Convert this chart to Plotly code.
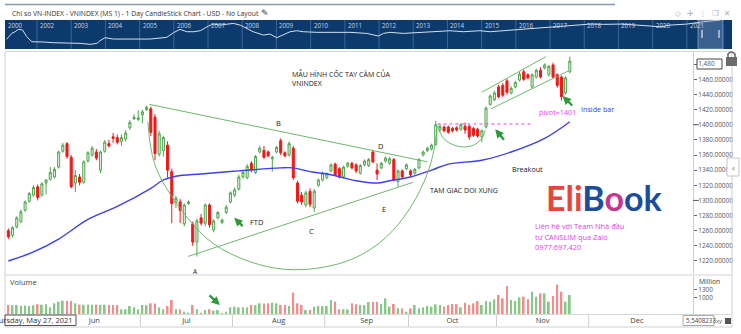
import plotly.graph_objects as go

W, H = 741, 334

# ---------------- VN-Index daily sessions, 18 May - 24 Nov 2021 ----------------
opens = [1260, 1254, 1265, 1272, 1287, 1299, 1307, 1318, 1307, 1323,
         1328, 1331, 1344, 1365, 1375, 1357, 1323, 1331, 1324, 1352,
         1360, 1364, 1340, 1365, 1375, 1384, 1383, 1378, 1381, 1396,
         1408, 1407, 1413, 1420, 1421, 1410, 1361, 1366, 1373, 1338,
         1297, 1298, 1269, 1296, 1269, 1245, 1277, 1270, 1294, 1261,
         1277, 1271, 1284, 1298, 1307, 1315, 1331, 1330, 1349, 1337,
         1364, 1366, 1364, 1355, 1364, 1379, 1363, 1360, 1369, 1323,
         1307, 1294, 1312, 1290, 1320, 1327, 1330, 1339, 1348, 1342,
         1331, 1345, 1349, 1347, 1336, 1347, 1346, 1364, 1340, 1343,
         1352, 1349, 1354, 1325, 1339, 1342, 1339, 1336, 1343, 1360,
         1366, 1368, 1374, 1393, 1397, 1397, 1395, 1396, 1394, 1398,
         1398, 1395, 1394, 1384, 1397, 1427, 1433, 1450, 1452, 1458,
         1442, 1450, 1459, 1470, 1466, 1450, 1463, 1472, 1475, 1466,
         1479, 1466, 1463, 1442, 1470]
highs = [1263, 1266, 1279, 1288, 1300, 1311, 1320, 1321, 1324, 1328,
         1344, 1344, 1366, 1376, 1377, 1360, 1340, 1335, 1353, 1365,
         1372, 1368, 1366, 1380, 1380, 1389, 1387, 1387, 1393, 1406,
         1414, 1419, 1420, 1425, 1424, 1414, 1392, 1385, 1378, 1342,
         1306, 1302, 1296, 1300, 1272, 1276, 1282, 1296, 1296, 1275,
         1286, 1276, 1294, 1312, 1317, 1334, 1339, 1348, 1352, 1360,
         1372, 1372, 1366, 1359, 1372, 1382, 1365, 1378, 1372, 1326,
         1311, 1313, 1316, 1315, 1329, 1338, 1337, 1349, 1350, 1344,
         1346, 1351, 1351, 1349, 1348, 1354, 1356, 1367, 1349, 1351,
         1358, 1357, 1356, 1341, 1341, 1349, 1341, 1343, 1356, 1366,
         1371, 1375, 1405, 1401, 1399, 1399, 1397, 1398, 1402, 1403,
         1400, 1397, 1396, 1394, 1424, 1440, 1445, 1453, 1455, 1461,
         1451, 1458, 1470, 1473, 1468, 1468, 1474, 1476, 1481, 1479,
         1482, 1468, 1465, 1464, 1490]
lows = [1249, 1251, 1263, 1270, 1285, 1297, 1305, 1300, 1305, 1308,
        1326, 1329, 1342, 1363, 1355, 1316, 1311, 1320, 1322, 1350,
        1358, 1353, 1336, 1363, 1370, 1376, 1374, 1372, 1378, 1393,
        1406, 1405, 1402, 1418, 1385, 1353, 1358, 1358, 1330, 1270,
        1290, 1270, 1266, 1294, 1240, 1226, 1267, 1266, 1264, 1258,
        1275, 1269, 1282, 1296, 1304, 1313, 1329, 1328, 1337, 1335,
        1362, 1355, 1357, 1338, 1362, 1360, 1357, 1358, 1327, 1296,
        1294, 1291, 1291, 1285, 1318, 1325, 1328, 1337, 1332, 1329,
        1329, 1343, 1341, 1336, 1334, 1345, 1344, 1349, 1327, 1341,
        1350, 1347, 1325, 1318, 1329, 1340, 1332, 1334, 1341, 1358,
        1364, 1366, 1372, 1391, 1390, 1388, 1390, 1391, 1392, 1388,
        1380, 1384, 1383, 1377, 1395, 1425, 1431, 1435, 1437, 1440,
        1440, 1448, 1457, 1458, 1460, 1448, 1461, 1461, 1473, 1464,
        1461, 1449, 1432, 1440, 1468]
closes = [1252, 1264, 1277, 1285, 1298, 1309, 1317, 1304, 1322, 1327,
          1337, 1341, 1364, 1373, 1358, 1318, 1333, 1324, 1351, 1363,
          1369, 1356, 1364, 1377, 1372, 1382, 1377, 1383, 1389, 1403,
          1410, 1409, 1417, 1423, 1390, 1362, 1388, 1383, 1340, 1296,
          1303, 1287, 1294, 1298, 1245, 1273, 1270, 1294, 1268, 1273,
          1284, 1274, 1291, 1310, 1314, 1331, 1337, 1345, 1340, 1358,
          1369, 1357, 1359, 1357, 1370, 1363, 1359, 1375, 1330, 1299,
          1298, 1310, 1295, 1312, 1327, 1336, 1335, 1347, 1334, 1331,
          1344, 1349, 1343, 1339, 1346, 1352, 1354, 1351, 1335, 1349,
          1356, 1355, 1327, 1339, 1331, 1347, 1334, 1341, 1354, 1364,
          1369, 1373, 1400, 1398, 1392, 1390, 1392, 1393, 1400, 1393,
          1384, 1386, 1385, 1392, 1422, 1438, 1442, 1437, 1439, 1443,
          1448, 1456, 1467, 1460, 1462, 1466, 1472, 1463, 1479, 1477,
          1463, 1452, 1437, 1462, 1484]
# matched volume, million shares
volumes = [711, 705, 715, 686, 690, 674, 700, 736, 724, 736,
           624, 774, 836, 874, 870, 861, 774, 724, 720, 728,
           722, 726, 718, 724, 716, 711, 706, 549, 552, 674,
           624, 549, 711, 705, 774, 770, 624, 549, 674, 899,
           549, 545, 461, 424, 711, 549, 424, 524, 549, 499,
           524, 399, 461, 624, 649, 624, 628, 620, 711, 706,
           774, 770, 776, 799, 774, 711, 715, 674, 1174, 774,
           711, 524, 520, 649, 674, 670, 678, 899, 836, 549,
           552, 546, 774, 736, 711, 708, 824, 836, 832, 749,
           961, 649, 749, 586, 582, 461, 586, 711, 586, 624,
           674, 649, 736, 711, 649, 715, 749, 745, 624, 799,
           711, 774, 861, 711, 861, 836, 924, 1086, 961, 1424,
           899, 861, 999, 1024, 924, 1211, 1024, 1149, 1145, 836,
           1049, 1474, 1211, 836, 1086]

# moving average (blue)
ma_x = [0, 6, 12, 19, 26, 34, 37, 40, 46, 55, 65, 68, 72, 77, 83, 88, 91, 96,
        101, 105, 113, 120, 128, 134]
ma_y = [1220, 1232, 1249, 1275, 1292, 1316, 1327, 1332, 1335, 1339, 1343, 1343,
        1338, 1334, 1326, 1323, 1326, 1331, 1340, 1348, 1353, 1364, 1382, 1404]

# drawn pattern lines (session index, price)
resist_x, resist_y = [33.6, 100.0], [1427, 1351]
support_x, support_y = [42.9, 96.6], [1226, 1324]
cup_x = [33.3, 33.9, 35.0, 37.0, 42.6, 48.9, 57.7, 66.0, 74.4, 82.7, 89.9, 95.9, 99.9, 101.6, 102.3]
cup_y = [1404, 1373, 1347, 1323, 1278, 1243, 1219, 1209, 1211, 1224, 1250, 1290, 1334, 1367, 1393]
handle_x = [102.4, 104.2, 107.8, 111.0, 113.0, 113.8]
handle_y = [1398, 1380, 1371, 1373, 1382, 1393]
chan_up_x, chan_up_y = [113.0, 128.3], [1443, 1490]
chan_lo_x, chan_lo_y = [115.2, 133.6], [1421, 1471]
pivot_price = 1401
pivot_x = [102.4, 124.6]

# calendar: sessions per month shown on the time axis
month_names = ["May", "Jun", "Jul", "Aug", "Sep", "Oct", "Nov", "Dec"]
month_sessions = [10, 22, 22, 22, 20, 21, 22, 23]

# long-term navigator (year, index level)
nav_year = [2001.11, 2001.26, 2001.36, 2001.45, 2001.58, 2001.70, 2001.85, 2001.99, 2002.18, 2002.48,
            2002.87, 2003.26, 2003.55, 2003.75, 2003.84, 2003.99, 2004.23, 2004.82, 2005.30, 2005.79,
            2005.99, 2006.18, 2006.38, 2006.57, 2006.77, 2007.01, 2007.16, 2007.35, 2007.74, 2007.94,
            2008.13, 2008.32, 2008.62, 2008.81, 2009.01, 2009.20, 2009.40, 2009.59, 2009.79, 2010.18,
            2010.66, 2011.15, 2011.64, 2011.83, 2011.98, 2012.13, 2012.32, 2012.71, 2013.20, 2013.69,
            2014.08, 2014.46, 2014.95, 2015.25, 2015.63, 2016.12, 2016.61, 2017.00, 2017.39, 2017.78,
            2018.17, 2018.56, 2019.05, 2019.54, 2020.02, 2020.22, 2020.51, 2021.00, 2021.48, 2021.97]
nav_level = [210, 385, 457, 580, 542, 275, 164, 164, 160, 149,
             149, 139, 126, 139, 182, 248, 216, 210, 216, 256,
             413, 580, 457, 457, 505, 814, 998, 901, 1067, 901,
             641, 457, 325, 360, 248, 325, 457, 505, 457, 429,
             429, 429, 385, 325, 294, 385, 429, 385, 413, 457,
             505, 457, 505, 457, 505, 580, 641, 713, 814, 901,
             998, 968, 998, 901, 814, 759, 901, 998, 1262, 1500]
nav_years = list(range(2002, 2022))

n = len(closes)
idx = list(range(n))

bounds = [-0.5]
for s in month_sessions:
    bounds.append(bounds[-1] + s)
centers = [(bounds[k] + bounds[k + 1]) / 2 for k in range(len(month_sessions))]

UP_LINE, UP_FILL, DN = "#4ea64e", "#e4f3e1", "#f01818"
TREND = "#6cb86c"
FONT = "Open Sans"


def px(x):
    return x / W


def py(y):
    return 1 - y / H


XD = [px(5), px(693)]
X_RANGE = [-0.8, 163.4]

fig = go.Figure()

fig.add_trace(go.Candlestick(
    x=idx, open=opens, high=highs, low=lows, close=closes,
    increasing=dict(line=dict(color=UP_LINE, width=1), fillcolor=UP_FILL),
    decreasing=dict(line=dict(color=DN, width=1), fillcolor=DN),
    whiskerwidth=0, hoverinfo="skip", xaxis="x", yaxis="y", showlegend=False))

fig.add_trace(go.Scatter(x=ma_x, y=ma_y, mode="lines", line=dict(color="#3f3ff0", width=1.4, shape="spline"),
                         hoverinfo="skip", xaxis="x", yaxis="y", showlegend=False))

for lx, ly, shape in [(resist_x, resist_y, "linear"), (support_x, support_y, "linear"),
                      (cup_x, cup_y, "spline"), (handle_x, handle_y, "spline"),
                      (chan_up_x, chan_up_y, "linear"), (chan_lo_x, chan_lo_y, "linear")]:
    fig.add_trace(go.Scatter(x=lx, y=ly, mode="lines", line=dict(color=TREND, width=1, shape=shape),
                             hoverinfo="skip", xaxis="x", yaxis="y", showlegend=False))

fig.add_trace(go.Scatter(x=pivot_x, y=[pivot_price, pivot_price], mode="lines",
                         line=dict(color="#f03cf0", width=1, dash="dot"),
                         hoverinfo="skip", xaxis="x", yaxis="y", showlegend=False))

vol_colors = ["#86c986" if c >= o else "#f48c8c" for o, c in zip(opens, closes)]
fig.add_trace(go.Bar(x=idx, y=volumes, marker=dict(color=vol_colors, line=dict(width=0)), width=0.42,
                     hoverinfo="skip", xaxis="x2", yaxis="y2", showlegend=False))

fig.add_trace(go.Scatter(x=nav_year, y=nav_level, mode="lines", line=dict(color="#d5dfeb", width=1),
                         hoverinfo="skip", xaxis="x3", yaxis="y3", showlegend=False))

price_ticks = list(range(1220, 1481, 20))
price_text = [f"{v:.5f}" for v in price_ticks[:-1]] + [f"{price_ticks[-1]:,}"]

shapes = []


def pline(x0, y0, x1, y1, color, width=1):
    shapes.append(dict(type="line", xref="paper", yref="paper", x0=px(x0), y0=py(y0), x1=px(x1), y1=py(y1),
                       line=dict(color=color, width=width)))


def prect(x0, y0, x1, y1, fill, line="rgba(0,0,0,0)", lw=1, layer="above"):
    shapes.append(dict(type="rect", xref="paper", yref="paper", x0=px(x0), y0=py(y0), x1=px(x1), y1=py(y1),
                       fillcolor=fill, line=dict(color=line, width=lw), layer=layer))


# header strip and navigator
pline(5, 4.5, 615, 4.5, "#8b99ad", 1.5)
prect(5, 20, 732, 49, "#0d3a6c", layer="below")
for yr in nav_years:
    shapes.append(dict(type="line", xref="x3", yref="paper", x0=yr, x1=yr, y0=py(49), y1=py(20),
                       line=dict(color="#3a6596", width=1), layer="below"))
prect(698, 20, 723, 49, "rgba(140,170,210,0.35)", "rgba(190,210,235,0.5)")
prect(701, 30, 703, 38, "#9fb0c6")
prect(718, 30, 720, 38, "#9fb0c6")

# panel frame
pline(5, 51.5, 732, 51.5, "#d6d6d6")
pline(5, 51.5, 5, 327, "#d0d0d0")
pline(732, 51.5, 732, 327, "#d0d0d0")
pline(5, 275, 732, 275, "#d0d0d0")
pline(5, 314.5, 732, 314.5, "#d6d6d6")
pline(5, 327, 732, 327, "#d0d0d0")
pline(693, 314.5, 693, 327, "#d0d0d0")
for b in bounds[1:]:
    shapes.append(dict(type="line", xref="x2", yref="paper", x0=b, x1=b, y0=py(327), y1=py(314.5),
                       line=dict(color="#cfcfcf", width=1)))

# longer ticks at the round hundreds
for v in (1300, 1400):
    shapes.append(dict(type="line", xref="paper", yref="y", x0=px(693), x1=px(699), y0=v, y1=v,
                       line=dict(color="#666", width=1)))

# last-price box, lock, collapse tab, crosshair boxes
prect(697, 59, 722, 69, "rgba(255,255,255,0)", "#444")
prect(726, 57, 737, 66, "#6a6a6a")
shapes.append(dict(type="path", xref="paper", yref="paper",
                   path=f"M {px(728)} {py(57)} L {px(728)} {py(54)} Q {px(731.5)} {py(50)} {px(735)} {py(54)} L {px(735)} {py(57)}",
                   line=dict(color="#6a6a6a", width=1.6)))
prect(727, 158, 739, 176, "white", "#c4c4c4")
prect(5, 315, 76, 325.5, "white", "#555")
prect(683, 315.5, 714, 325.5, "white", "#aaa")

ann = []


def ptext(x, y, s, size=7.5, color="#333", anchor="left", family=FONT):
    ann.append(dict(xref="paper", yref="paper", x=px(x), y=py(y), text=s, showarrow=False,
                    xanchor=anchor, yanchor="middle", font=dict(size=size, color=color, family=family)))


def dtext(x, y, s, size=7.5, color="#222", anchor="left", align="left"):
    ann.append(dict(xref="x", yref="y", x=x, y=y, text=s, showarrow=False, align=align,
                    xanchor=anchor, yanchor="middle", font=dict(size=size, color=color, family=FONT)))


def arrow(x, y, ax, ay, xref="x", yref="y"):
    ann.append(dict(xref=xref, yref=yref, x=x, y=y, ax=ax, ay=ay, text="", showarrow=True,
                    arrowhead=2, arrowsize=0.7, arrowwidth=2.4, arrowcolor="#2d9a3a"))


ptext(10, 13, "Chi so VN-INDEX - VNINDEX (MS 1) - 1 Day CandleStick Chart - USD - No Layout", 6.8, "#333")
ptext(259, 12.5, "✎", 9, "#333", family="DejaVu Sans")
for xx, ch in [(678, "◇"), (690, "✢"), (703, "⋮"), (715, "❐"), (727, "✕")]:
    ptext(xx, 13, ch, 7.5, "#a8a8a8", anchor="center", family="DejaVu Sans")

ann.append(dict(xref="paper", yref="paper", x=px(6), y=py(25.5), text="2000", showarrow=False,
                xanchor="left", yanchor="middle", font=dict(size=6.2, color="#c9d5e6", family=FONT)))
for yr in nav_years:
    ann.append(dict(xref="x3", yref="paper", x=yr, y=py(25.5), text=str(yr), showarrow=False, xshift=1,
                    xanchor="left", yanchor="middle", font=dict(size=6.2, color="#c9d5e6", family=FONT)))

# pattern labels
dtext(67.2, 1461, "MẪU HÌNH CỐC TAY CẦM CỦA<br>VNINDEX", 7, "#222")
dtext(64.4, 1402.7, "B", anchor="center")
dtext(88.7, 1371.9, "D", anchor="center")
dtext(72.4, 1260, "C", anchor="center")
dtext(89.7, 1288.3, "E", anchor="center")
dtext(59.2, 1271.9, "FTD", anchor="center")
dtext(44.6, 1206.5, "A", 6.5, anchor="center")
dtext(100.2, 1312.8, "TAM GIAC DOI XUNG", 7)
dtext(124.0, 1341.5, "Breakout", 7.2, anchor="center")
dtext(126.1, 1417.2, f"pivot={pivot_price}", 7.2, "#f03cf0")
dtext(136.2, 1420.4, "Inside bar", 7.2, "#3a3af0")

arrow(53.9, 1277.2, 10, 10)
arrow(116.2, 1394, 10, 12)
arrow(132.3, 1438, 11, 11)
arrow(50.5, 711, -12, -11, "x2", "y2")

# brand and contact
ann.append(dict(xref="paper", yref="paper", x=px(604), y=py(197), showarrow=False, xanchor="center",
                yanchor="middle", font=dict(size=34, family="Lato", color="#1b4d9b"),
                text='<b><span style="color:#e8463c">Eli</span>B<span style="color:#c8358f">o</span>ok</b>'))
ptext(533, 226, "Liên hệ với Team Nhà đầu", 7.4, "#e23ce2")
ptext(533, 236.7, "tư CANSLIM qua Zalo", 7.4, "#e23ce2")
ptext(533, 246.7, "0977.697.420", 7.4, "#e23ce2")

# panel labels
ptext(8, 282, "Volume", 7.5, "#444")
ptext(697, 281.5, "Million", 6.8, "#444")
ptext(733, 167, "‹", 9, "#666", anchor="center")
ptext(75, 320.3, "Thursday, May 27, 2021", 7.5, "#333", anchor="right")
ptext(684, 320.5, "5.5408233", 6.2, "#444")
ptext(719, 320.5, "xy", 5.8, "#555", anchor="center")
prect(725, 318, 731, 324, "#555")

fig.update_layout(
    width=W, height=H, margin=dict(l=0, r=0, t=0, b=0),
    paper_bgcolor="white", plot_bgcolor="rgba(0,0,0,0)",
    font=dict(family=FONT, size=7.5, color="#333"),
    showlegend=False, hovermode=False, boxgap=0.3,
    xaxis=dict(domain=XD, range=X_RANGE, anchor="y", showticklabels=False, showgrid=False,
               zeroline=False, showline=False, rangeslider=dict(visible=False), fixedrange=True),
    yaxis=dict(domain=[py(274), py(52)], range=[1202.8, 1496.1], side="right", anchor="x",
               tickvals=price_ticks, ticktext=price_text, ticks="outside", ticklen=3, tickcolor="#666",
               tickfont=dict(size=6.4, color="#555"), showgrid=False, zeroline=False,
               showline=True, linecolor="#cfcfcf", fixedrange=True),
    xaxis2=dict(domain=XD, range=X_RANGE, anchor="y2", tickvals=centers[1:], ticktext=month_names[1:],
                ticks="", showgrid=False, zeroline=False, showline=False,
                tickfont=dict(size=7.5, color="#444"), fixedrange=True),
    yaxis2=dict(domain=[py(314), py(276)], range=[374, 1799], side="right", anchor="x2",
                tickvals=[1000, 1300], ticks="outside", ticklen=3, tickcolor="#666",
                tickfont=dict(size=6.4, color="#555"), showgrid=False, zeroline=False,
                showline=True, linecolor="#cfcfcf", fixedrange=True),
    xaxis3=dict(domain=[px(5), px(732)], range=[2001.064, 2022.32], anchor="y3", visible=False,
                fixedrange=True),
    yaxis3=dict(domain=[py(49), py(20)], type="log", range=[1.893, 3.18], anchor="x3", visible=False,
                fixedrange=True),
    shapes=shapes, annotations=ann,
)

fig.write_html("out.html", config={"displayModeBar": False})
